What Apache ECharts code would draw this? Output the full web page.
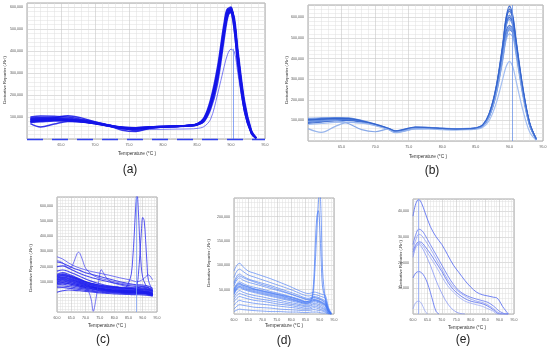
<!DOCTYPE html>
<html><head><meta charset="utf-8">
<script src="https://cdn.jsdelivr.net/npm/echarts@6/dist/echarts.min.js"></script>
<style>html,body{margin:0;padding:0;background:#fff}#c{width:550px;height:349px}</style>
</head><body><div id="c"></div>
<script>
// ---------- DATA (values in thousands of Rn') ----------
// Panel (a)
const TA = [60.5,62,64,66,68,70,72,74,76,78,80,82,84,85,86,87,88,89,89.5,90,90.5,91,92,93,93.7];
const a1 = [90,92,92,89,82,72,62,52,50,54,57,58,62,67,90,165,300,500,585,580,490,340,125,25,3];
const a2 = [85,87,88,86,80,71,60,50,49,53,56,57,61,66,85,155,285,490,575,590,520,370,140,30,4];
const a3 = [80,84,86,84,78,70,59,48,47,52,55,57,60,65,82,150,275,475,565,595,535,390,155,34,5];
const a4 = [95,98,97,94,86,75,63,52,50,55,57,59,63,69,95,180,325,530,592,580,490,335,122,24,3];
const a5 = [75,78,82,82,77,69,58,47,44,50,54,56,59,63,78,135,250,455,550,585,550,410,172,40,6];
const a6 = [100,104,103,100,90,77,64,54,51,55,58,59,63,68,92,170,310,515,590,600,520,365,135,28,3];
const a7 = [70,55,68,80,78,70,60,49,46,51,55,57,61,66,88,160,295,495,570,585,525,375,145,30,4];
const a8 = [88,90,96,106,96,78,62,50,48,53,56,58,62,67,86,158,290,492,568,578,512,370,142,30,4];
const a9 = [82,85,88,87,82,73,60,40,34,48,55,57,60,64,80,148,275,485,562,588,535,388,152,33,5];
const a10 = [92,95,94,90,84,74,63,53,51,55,57,58,62,67,89,162,298,505,580,596,518,362,136,27,3];
const a11 = [78,82,85,85,80,72,62,52,38,50,56,58,61,66,84,152,282,482,560,575,530,392,158,35,5];
const aLow = [78,80,84,85,80,70,58,46,42,43,44,45,46,48,56,90,200,330,385,408,395,300,120,25,2];

// Panel (b)
const TB = [60,62,64,66,68,70,72,73,74,76,78,80,82,84,85,86,87,88,89,89.5,90,90.5,91,92,93,94];
const b1 = [105,110,112,108,95,80,60,48,52,66,65,61,58,60,63,76,135,260,470,600,655,610,490,260,90,10];
const b2 = [100,105,108,106,96,80,58,45,50,64,63,60,58,60,63,75,130,250,455,585,630,590,475,250,88,9];
const b3 = [95,100,104,104,95,80,60,46,51,65,64,60,58,60,62,74,128,245,445,570,610,575,465,245,85,9];
const b4 = [90,96,100,100,92,78,58,44,49,62,62,59,57,59,61,72,125,240,440,560,600,570,460,240,82,8];
const b5 = [110,112,114,112,100,82,62,50,55,68,66,62,59,61,64,78,132,250,445,555,590,560,455,245,84,8];
const b6 = [85,92,98,100,93,78,58,42,47,60,61,58,56,58,60,72,120,235,420,530,560,545,445,240,82,8];
const b7 = [98,104,108,106,96,80,58,44,50,64,63,60,58,60,62,74,122,230,410,515,550,535,440,235,80,8];
const b8 = [92,98,102,102,94,79,58,43,48,62,62,59,57,59,61,73,120,225,400,500,540,525,430,230,78,7];
const b9 = [60,42,70,90,88,76,57,42,48,62,62,59,57,59,61,72,118,220,390,490,520,505,415,220,75,7];
const b10 = [95,98,100,85,55,45,58,46,50,63,62,59,57,59,61,72,120,230,405,505,545,530,435,232,78,8];
const b11 = [80,85,90,92,86,74,55,40,45,58,58,55,53,55,57,66,100,180,300,360,385,360,290,150,45,3];
const b12 = [102,106,110,110,98,82,61,49,54,67,65,61,58,60,63,77,133,255,460,590,640,600,480,255,88,9];

// Panel (c)
const TC = [60,62,64,66,68,70,72,74,76,78,80,82,84,86,88,90,92,93.5];
const c1 = [150,160,150,135,118,100,88,78,70,63,57,52,48,44,42,40,35,25];
const c2 = [130,140,132,118,104,90,80,70,62,56,50,46,42,40,38,36,30,20];
const c3 = [120,128,120,108,95,82,72,63,56,50,45,41,38,36,34,32,27,18];
const c4 = [110,115,108,97,86,75,66,58,51,46,41,38,35,33,31,30,25,16];
const c5 = [100,105,98,88,78,68,60,53,47,42,38,35,32,30,29,28,23,15];
const c6 = [90,94,88,80,71,62,55,48,43,38,35,32,30,28,27,26,21,14];
const c7 = [80,84,78,71,63,56,50,44,39,35,32,30,28,26,25,24,20,12];
const c8 = [70,72,68,62,56,50,44,39,35,32,29,27,25,24,23,22,18,10];
const c9 = [60,62,58,53,48,43,38,34,30,28,26,24,22,21,20,19,15,8];
const c10 = [170,178,168,152,135,118,104,92,82,74,68,62,58,55,52,50,45,35];
const c11 = [140,148,140,126,112,98,88,80,73,67,62,58,55,52,50,48,44,32];
const c12 = [200,205,190,172,155,140,128,118,108,100,92,85,78,72,68,65,58,45];
const c13 = [125,132,125,113,100,88,78,70,65,62,60,57,55,54,53,52,48,38];
const c14 = [105,110,104,95,85,74,65,57,50,45,40,36,33,32,40,38,30,18];
const c15 = [95,100,95,87,78,70,62,56,52,48,45,43,42,45,50,48,40,25];
const c16 = [145,152,143,130,115,100,90,82,75,70,65,60,55,52,58,70,60,40];
const c17 = [30,40,45,43,40,36,32,28,25,22,20,18,16,15,14,13,10,5];
const c18 = [115,122,116,106,96,86,78,72,68,66,65,64,63,62,60,58,52,40];
const c19 = [230,222,205,188,175,160,150,140,130,120,110,100,92,85,80,78,70,55];
const c20 = [135,142,136,124,110,96,85,75,67,60,54,49,45,42,40,38,33,22];
const c21 = [112,118,112,102,91,80,70,61,54,48,43,39,36,34,32,31,26,17];
const c22 = [88,92,87,79,70,62,55,49,44,40,37,34,32,30,29,28,24,13];
const cHump = [265,250,225,205,190,178,168,160,152,144,135,126,118,110,100,115,145,110];
const TC2 = [60,62,64,65,66,67,67.5,68,69,70,72,74,76,78,80,82,84,86,88,90,92,93.5];
const cBump = [240,225,190,195,235,285,295,288,240,190,150,130,118,110,100,92,85,80,75,70,60,45];
const TC3 = [60,62,64,66,68,70,71,72,72.7,73.5,74.5,75.5,76.5,78,80,82,84,86,88,90,92,93.5];
const cDip = [110,115,108,98,85,70,40,-20,-95,-30,90,180,150,110,90,80,70,62,55,50,42,30];
const TC4 = [60,62,64,66,68,70,72,74,76,78,80,82,84,85,86,86.5,87,87.5,88,88.5,89,89.5,90,91,92,93.5];
const cPeak88 = [125,130,122,110,98,86,76,68,62,57,53,50,60,90,150,250,400,580,690,560,350,200,130,80,60,40];
const TC5 = [60,62,64,66,68,70,72,74,76,78,80,82,84,86,87,88,88.5,89,89.5,90,90.5,91,91.5,92,93.5];
const cPeak90 = [135,140,132,120,106,94,84,76,70,64,58,54,50,48,50,80,150,280,420,525,505,380,220,110,40];

// Panel (d)
const TD = [60,61,62,63,65,67,70,73,76,79,82,84,85,86,87,88,89,90,91,92,93,94];
const d1 = [88,100,104,98,88,84,78,72,65,58,50,45,43,42,43,45,44,42,40,38,15,2];
const d2 = [75,88,92,88,80,76,70,64,58,52,45,40,38,37,38,40,39,37,35,32,12,2];
const d3 = [65,78,82,78,72,68,63,58,52,46,40,35,33,32,34,36,35,33,30,26,10,1];
const d4 = [58,70,74,70,65,62,57,52,47,42,36,32,30,29,31,33,32,30,27,22,8,1];
const d5 = [52,62,66,63,58,55,51,46,42,37,32,28,26,26,28,30,29,27,24,20,7,1];
const d6 = [46,56,60,57,53,50,46,42,38,33,28,25,23,23,25,28,27,25,22,18,6,1];
const d7 = [40,50,54,51,47,44,40,36,32,28,24,21,20,20,22,25,24,22,19,15,5,1];
const d8 = [35,44,48,45,41,38,35,31,28,24,21,18,17,17,19,22,21,19,16,12,4,0];
const d9 = [30,38,42,40,36,33,30,27,24,21,18,16,15,15,17,19,18,16,13,10,3,0];
const d10 = [25,32,36,34,31,28,26,23,20,18,15,13,12,12,14,16,15,13,11,8,2,0];
const d11 = [18,25,28,26,24,22,20,18,16,14,12,10,10,10,11,13,12,10,8,6,2,0];
const d12 = [10,16,19,18,16,14,13,12,10,9,8,7,7,7,8,9,8,7,6,4,1,0];
const d13 = [5,8,10,9,8,7,6,5,5,4,4,3,3,3,4,4,4,3,2,2,0,0];
const d14 = [50,60,63,60,56,52,48,44,40,36,31,27,25,25,27,29,28,26,23,19,7,1];
const d15 = [44,53,57,55,51,48,44,40,36,32,27,23,22,22,24,27,26,24,21,17,6,1];
const d16 = [62,74,78,75,70,66,60,55,49,43,37,33,31,30,32,34,33,31,28,24,9,1];
const TDP = [60,61,62,63,65,67,70,73,76,79,82,84,85,86,87,87.5,88,88.5,89,89.5,90,90.5,91,92,93,94];
const dPeak1 = [48,58,62,59,55,51,47,43,39,35,30,26,25,26,30,40,80,150,200,212,180,110,55,30,8,1];
const dPeak2 = [42,52,56,53,49,46,42,38,34,30,26,23,22,23,27,35,60,110,170,225,255,200,90,30,8,1];

// Panel (e)
const TE = [60,61,62,63,64,66,68,70,72,74,76,78,80,82,84,86,88,89,90,91,92,93];
const e1 = [38,43,44.5,43,40,34,30,27,23,19,16,13,10.5,8.5,7.5,7,6.5,6.3,5,3,1.5,0];
const e2 = [27,31,33,32.5,31,27,23,19,15,11.5,9,7.5,6.5,5.8,5.2,4.5,3,2,1,0.5,0,0];
const e3 = [25,29,31,30.5,29,25.5,21.5,17.5,13.5,10.5,8.5,7,5.8,5,4.5,3.5,2,1,0.3,0,0,0];
const e4 = [24,27,28,27.8,26.5,23.5,20,16.5,12.5,9.5,7.5,6,5,4.5,4,3,1.5,0.5,0,0,0,0];
const e5 = [23,26.5,27.5,27,25.5,22,18.5,14.5,11,8.5,6.5,5,4.2,3.6,3,2,1,0,0,0,0,0];
const TE8 = [60,61,62,63,64,66,68,70,72,74,76,78];
const e8 = [22,26,27,26,24,19,13,8,4,1.5,0.3,0];
const TE6 = [60,61,62,63,64,65,66,67,68,69];
const e6 = [14,16,16.5,16,14.5,12,8.5,4.5,1,0];
const TE7 = [60,61,62,63,64,65];
const e7 = [2,4.5,5,4,1.5,0];

// Tick / label text
const xTitle = 'Temperature (°C )';
const yTitle = "Derivative Reporter (-Rn')";
const panelNames = ['(a)','(b)','(c)','(d)','(e)'];

// ---------- LAYOUT ----------
const G = [
  {left:27, top:3, width:238, height:136, ymin:0, ymax:618, yint:100, hideX0:true},
  {left:308, top:5, width:235, height:136, ymin:0, ymax:660, yint:100, hideX0:true},
  {left:57, top:197, width:100, height:115, ymin:-100, ymax:660, yint:100, hideX0:false},
  {left:234, top:198, width:100, height:116, ymin:0, ymax:238, yint:50, hideX0:false},
  {left:413, top:199, width:101, height:115, ymin:0, ymax:44.7, yint:10, hideX0:false}
];
const FONT = 'Liberation Sans, Arial, sans-serif';
function commas(n){ return String(Math.round(n)).replace(/\B(?=(\d{3})+(?!\d))/g, ','); }

const grids = [], xAxes = [], yAxes = [];
G.forEach((g, i) => {
  grids.push({left:g.left, top:g.top, width:g.width, height:g.height, show:true,
    borderColor:'#a8a8a8', borderWidth:1, backgroundColor:'#fff', containLabel:false, outerBoundsMode:'none'});
  xAxes.push({type:'value', gridIndex:i, min:60, max:95, interval:5,
    axisLine:{show:false}, axisTick:{show:false},
    axisLabel:{fontSize:3.6, color:'#555', margin:4, fontFamily:FONT, showMinLabel:!g.hideX0,
      formatter:v => v.toFixed(1)},
    splitLine:{show:true, lineStyle:{color:'#c8c8c8', width:0.6}},
    minorTick:{show:false, splitNumber:5},
    minorSplitLine:{show:true, lineStyle:{color:'#dedede', width:0.5}}});
  yAxes.push({type:'value', gridIndex:i, min:g.ymin, max:g.ymax, interval:g.yint,
    axisLine:{show:false}, axisTick:{show:false},
    axisLabel:{fontSize:3.6, color:'#555', margin:4, fontFamily:FONT, showMaxLabel:false,
      formatter:v => (v <= 0 || v > g.ymax - 0.001) ? '' : commas(v*1000)},
    splitLine:{show:true, lineStyle:{color:'#c8c8c8', width:0.6}},
    minorTick:{show:false, splitNumber:5},
    minorSplitLine:{show:true, lineStyle:{color:'#dedede', width:0.5}}});
});

const series = [];
function mk(gi, xs, ys, color, w, op, extra){
  const s = {type:'line', xAxisIndex:gi, yAxisIndex:gi, data:xs.map((x,k)=>[x, ys[k]]),
    smooth:0.35, symbol:'none', silent:true, clip:true, animation:false,
    lineStyle:{color:color, width:w, opacity:op}};
  if (extra) Object.assign(s, extra);
  series.push(s);
  return s;
}
const vline = (c) => ({silent:true, symbol:'none', label:{show:false}, animation:false,
  lineStyle:{color:c, width:0.8, type:'solid'}});

// (a)
mk(0, TA, aLow, '#4b4bf0', 0.8, 0.9, {markLine:Object.assign(vline('#6f8ff0'), {data:[[{coord:[90.3,0]},{coord:[90.3,410]}]]})});
[a1,a2,a3,a4,a5,a6,a7,a8,a9,a10,a11].forEach((c)=>mk(0, TA, c, '#1414e8', 1.5, 0.85));
mk(0, [60.5,93.7], [0,0], '#2a2af0', 0, 0, {markLine:Object.assign(vline('#2f3ff0'), {lineStyle:{color:'#2f3ff0', width:1.4, type:[16,9]}, data:[{yAxis:0}]})});

// (b)
const bColors = ['#2a5ccc','#3d6bd2','#5581dc','#2f62cf','#6a92e0','#3767cf','#5a86dc','#4573d6','#8eaeea','#7a9fe6','#9ab8f0','#3060cc'];
[b1,b2,b3,b4,b5,b6,b7,b8,b9,b10,b11,b12].forEach((c,k)=>mk(1, TB, c, bColors[k], 1.2, 0.9));
series[series.length-1].markLine = Object.assign(vline('#6f94e6'), {data:[{xAxis:90.4}]});

// (c)
[c1,c2,c3,c4,c5,c6,c7,c8,c9,c10,c11,c12,c13,c14,c15,c16,c17,c18,c19,c20,c21,c22].forEach(c=>mk(2, TC, c, '#1e1eec', 1.1, 0.8));
mk(2, TC, cHump, '#3a3af2', 0.8, 0.85);
mk(2, TC2, cBump, '#3a3af2', 0.8, 0.85);
mk(2, TC3, cDip, '#3a3af2', 0.8, 0.85);
mk(2, TC4, cPeak88, '#3030f0', 0.9, 0.9, {markLine:Object.assign(vline('#7f9ff0'), {data:[{xAxis:87.9}]})});
mk(2, TC5, cPeak90, '#3030f0', 0.9, 0.9);

// (d)
[d1,d2,d3,d4,d5,d6,d7,d8,d9,d10,d11,d12,d13,d14,d15,d16].forEach(c=>mk(3, TD, c, '#4a7cf6', 0.8, 0.8));
mk(3, TDP, dPeak1, '#4a7cf6', 0.8, 0.9);
mk(3, TDP, dPeak2, '#4a7cf6', 0.8, 0.9);

// (e)
mk(4, TE, e1, '#5a6ff2', 0.9, 0.95, {markLine:Object.assign(vline('#8fa6f5'), {data:[{xAxis:61.8}]})});
mk(4, TE, e2, '#6678f2', 0.9, 0.9);
mk(4, TE, e3, '#8797f5', 0.8, 0.9);
mk(4, TE, e4, '#5a6ff2', 0.9, 0.9);
mk(4, TE, e5, '#95a4f6', 0.8, 0.9);
mk(4, TE8, e8, '#7d8ef4', 0.8, 0.9);
mk(4, TE6, e6, '#5a6ff2', 0.9, 0.9);
mk(4, TE7, e7, '#8fa0f5', 0.8, 0.9);

// ---------- TEXT ----------
const xT = [[137,154],[428,157],[107,326],[284,326],[467,328]];
const yT = [[5,80],[287,80],[31,268],[209,263],[401,264]];
const pL = [[130,170],[432,171],[103,340],[284,341],[463,340]];
const graphic = [];
for (let i=0;i<5;i++){
  graphic.push({type:'text', x:xT[i][0], y:xT[i][1], silent:true,
    style:{text:xTitle, font:'4.8px '+FONT, fill:'#333', align:'center', verticalAlign:'middle'}});
  graphic.push({type:'text', x:yT[i][0], y:yT[i][1], rotation:Math.PI/2, silent:true,
    style:{text:yTitle, font:'4.2px '+FONT, fill:'#333', align:'center', verticalAlign:'middle'}});
  graphic.push({type:'text', x:pL[i][0], y:pL[i][1], silent:true,
    style:{text:panelNames[i], font:'12px '+FONT, fill:'#222', align:'center', verticalAlign:'middle'}});
}

const chart = echarts.init(document.getElementById('c'), null, {renderer:'canvas', width:550, height:349});
chart.setOption({animation:false, backgroundColor:'#fff', grid:grids, xAxis:xAxes, yAxis:yAxes, series:series, graphic:graphic});
</script></body></html>
